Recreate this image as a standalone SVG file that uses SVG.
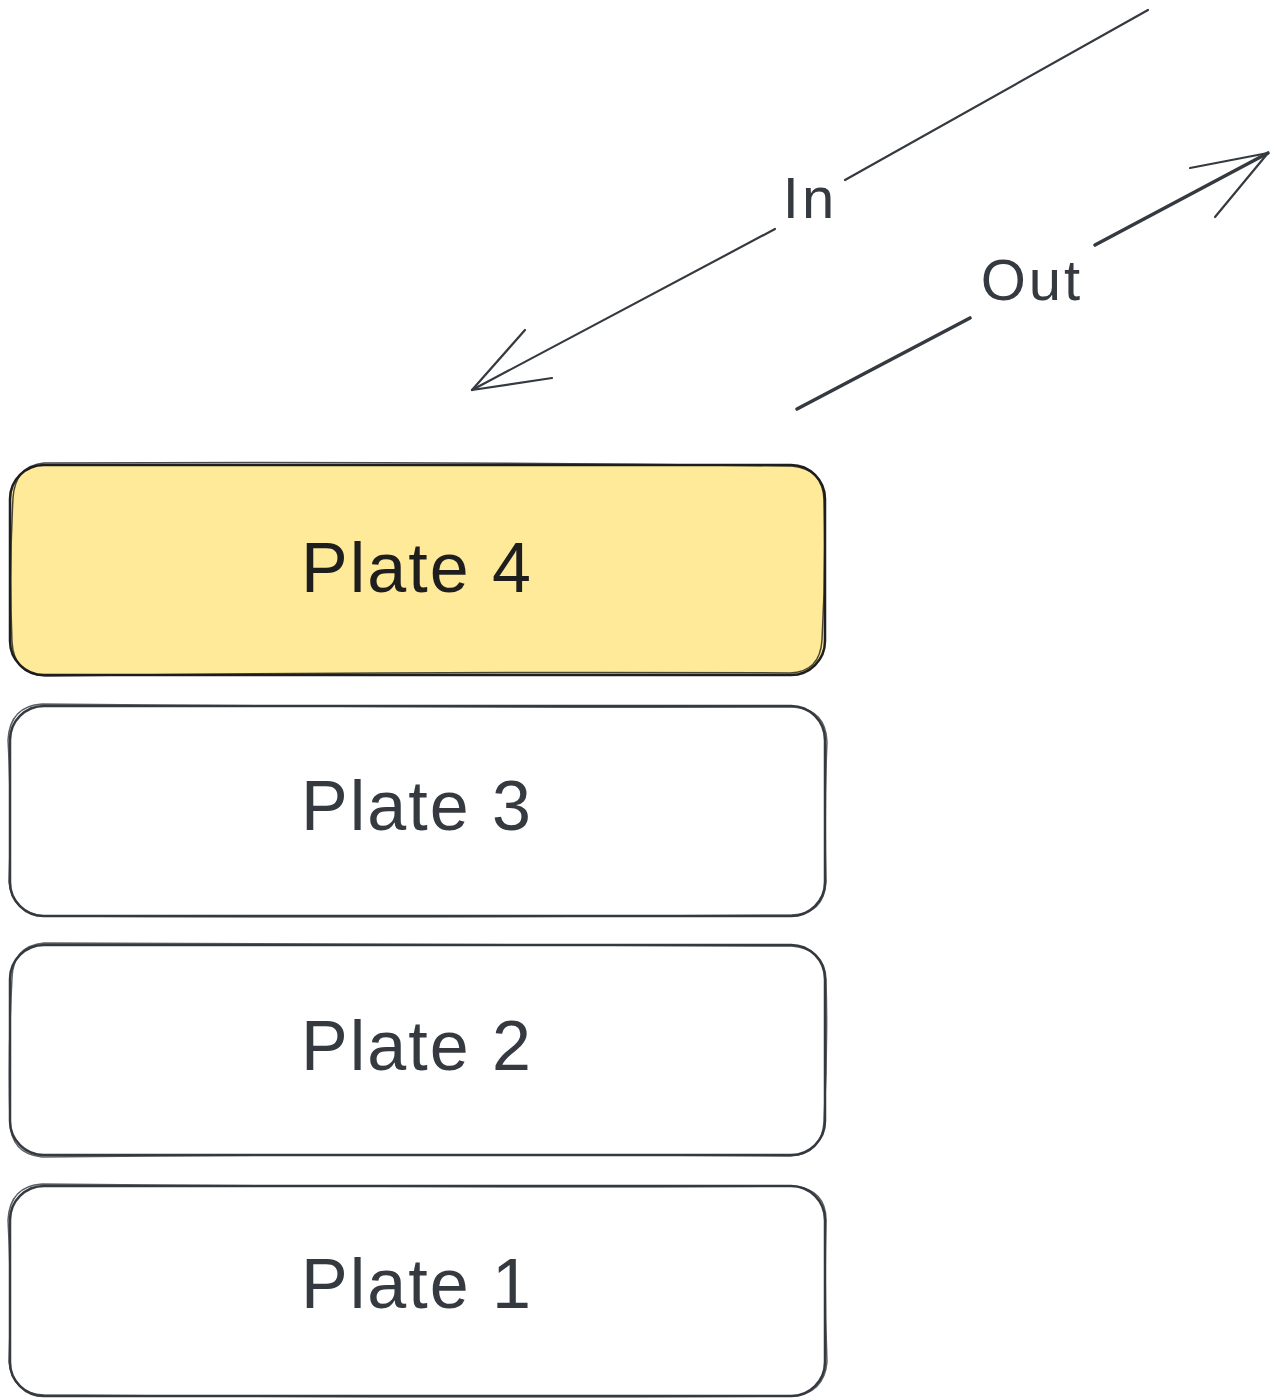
<svg xmlns="http://www.w3.org/2000/svg" width="1274" height="1399" viewBox="0 0 1274 1399">
  <style>
    .plate { fill: #ffffff; stroke: #343a40; stroke-width: 2.5; }
    .plate-hot { fill: #ffea99; stroke: #1e1e1e; stroke-width: 2.5; }
    .sketch { fill: none; stroke: #343a40; stroke-width: 1.5; opacity: 0.8; }
    .sketch-hot { fill: none; stroke: #1e1e1e; stroke-width: 1.5; opacity: 0.8; }
    .label { font-family: "Liberation Sans", Arial, sans-serif; font-size: 70px; fill: #343a40; text-anchor: middle; letter-spacing: 2px; }
    .label-hot { fill: #1e1e1e; }
    .edge-label { font-family: "Liberation Sans", Arial, sans-serif; font-size: 58px; fill: #343a40; text-anchor: middle; letter-spacing: 3px; }
    .wire { fill: none; stroke: #343a40; stroke-width: 2.2; stroke-linecap: round; stroke-linejoin: round; }
    .wire-bold { fill: none; stroke: #343a40; stroke-width: 3.6; stroke-linecap: round; stroke-linejoin: round; }
  </style>

  <!-- arrows between the stack and the outside -->
  <g id="connectors">
    <g id="edge-in">
      <path class="wire" d="M1148 10 L845 180"/>
      <path class="wire" d="M775 229 L472 390"/>
      <path class="wire" d="M525 330 L472 390 L552 378"/>
      <text class="edge-label" x="810" y="218">In</text>
    </g>
    <g id="edge-out">
      <path class="wire-bold" d="M797 409 L970 318"/>
      <path class="wire-bold" d="M1095 245 L1268 153"/>
      <path class="wire" d="M1190 168 L1268 153 L1215 217"/>
      <text class="edge-label" x="1032" y="300">Out</text>
    </g>
  </g>

  <!-- stacked plates, top to bottom -->
  <g id="plate-4">
    <rect class="plate-hot" x="10" y="465" width="815" height="210" rx="34"/>
    <path class="sketch-hot" d="M44 463 Q420 461 792 466 Q823 469 824 500 Q826 570 822 640 Q820 672 790 673 Q420 671 46 676 Q14 675 12 642 Q9 570 13 498 Q15 466 44 463 Z"/>
    <text class="label label-hot" x="417" y="592">Plate 4</text>
  </g>

  <g id="plate-3">
    <rect class="plate" x="10" y="706" width="815" height="210" rx="34"/>
    <path class="sketch" d="M42 704 Q420 708 794 707 Q826 710 827 742 Q824 810 826 882 Q824 914 792 915 Q420 918 44 916 Q12 913 9 882 Q12 810 8 740 Q10 706 42 704 Z"/>
    <text class="label" x="417" y="830">Plate 3</text>
  </g>

  <g id="plate-2">
    <rect class="plate" x="10" y="945" width="815" height="210" rx="34"/>
    <path class="sketch" d="M44 943 Q420 946 792 946 Q825 949 826 980 Q828 1050 824 1122 Q822 1154 790 1156 Q420 1153 42 1157 Q11 1154 10 1122 Q8 1050 12 978 Q13 946 44 943 Z"/>
    <text class="label" x="417" y="1070">Plate 2</text>
  </g>

  <g id="plate-1">
    <rect class="plate" x="10" y="1186" width="815" height="210" rx="34"/>
    <path class="sketch" d="M42 1184 Q420 1188 794 1186 Q827 1190 826 1222 Q824 1290 827 1362 Q824 1394 792 1396 Q420 1398 44 1395 Q12 1393 9 1362 Q12 1290 8 1220 Q10 1186 42 1184 Z"/>
    <text class="label" x="417" y="1308">Plate 1</text>
  </g>
</svg>
